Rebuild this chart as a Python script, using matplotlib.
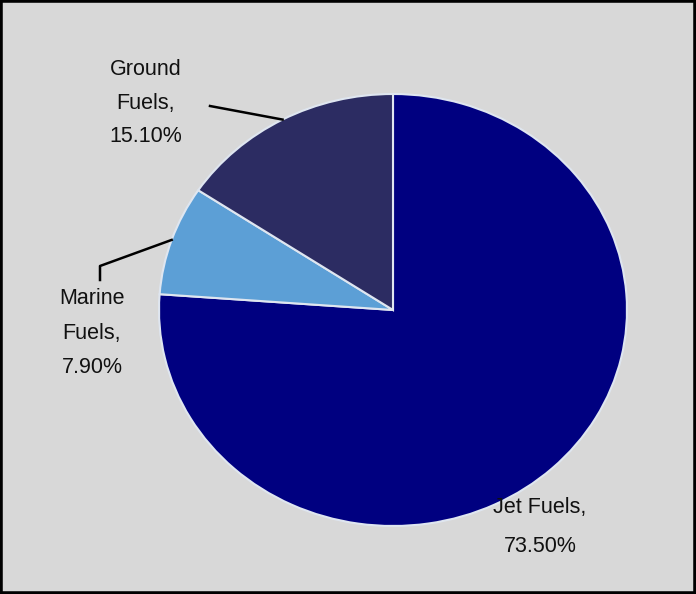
import numpy as np
import matplotlib
matplotlib.use("Agg")
import matplotlib.pyplot as plt
from matplotlib.patches import Rectangle

categories = ["Jet Fuels", "Marine Fuels", "Ground Fuels"]
values = [73.5, 7.9, 15.1]
label_lines = [["Jet Fuels,", "73.50%"], ["Marine", "Fuels,", "7.90%"], ["Ground", "Fuels,", "15.10%"]]
colors = ["#000080", "#5c9fd6", "#2c2c62"]

plt.rcParams['font.family'] = ['Liberation Sans', 'DejaVu Sans']

W, H = 696, 594
fig = plt.figure(figsize=(W / 100, H / 100), dpi=100)
fig.patch.set_facecolor("#d8d8d8")
fig.patches.append(Rectangle((0, 0), 1, 1, transform=fig.transFigure, fill=False,
                             edgecolor="black", linewidth=4, zorder=10))

cx, cy, rx, ry = 393, 310, 234, 216
ax = fig.add_axes([(cx - rx) / W, (H - cy - ry) / H, 2 * rx / W, 2 * ry / H])
ax.set_facecolor("none")
wedges, _ = ax.pie(values, colors=colors, startangle=90, counterclock=False,
                   wedgeprops=dict(edgecolor="#dfe6f0", linewidth=1.5))
ax.set_aspect("auto")
ax.set_xlim(-1, 1)
ax.set_ylim(-1, 1)
ax.axis("off")

def px(x, y):
    return (x - cx) / rx, (cy - y) / ry

# label text positions (pixel centres), line spacing and leader elbow points
text_pos = {"Jet Fuels": (540, 527), "Marine Fuels": (92, 333), "Ground Fuels": (146, 103)}
spacing = {"Jet Fuels": 2.1, "Marine Fuels": 1.85, "Ground Fuels": 1.8}
leader_start = {"Marine Fuels": [(100, 280), (100, 266)], "Ground Fuels": [(210, 106)]}

for w, cat, lines in zip(wedges, categories, label_lines):
    tx, ty = px(*text_pos[cat])
    ax.text(tx, ty, "\n".join(lines), ha="center", va="center", fontsize=15.5,
            linespacing=spacing[cat], color="#111111")
    if cat in leader_start:
        mid = np.deg2rad((w.theta1 + w.theta2) / 2)
        pts = [px(*p) for p in leader_start[cat]] + [(np.cos(mid), np.sin(mid))]
        xs, ys = zip(*pts)
        ax.plot(xs, ys, color="black", linewidth=1.8, clip_on=False)

fig.savefig("out.png", dpi=100, facecolor=fig.get_facecolor())
